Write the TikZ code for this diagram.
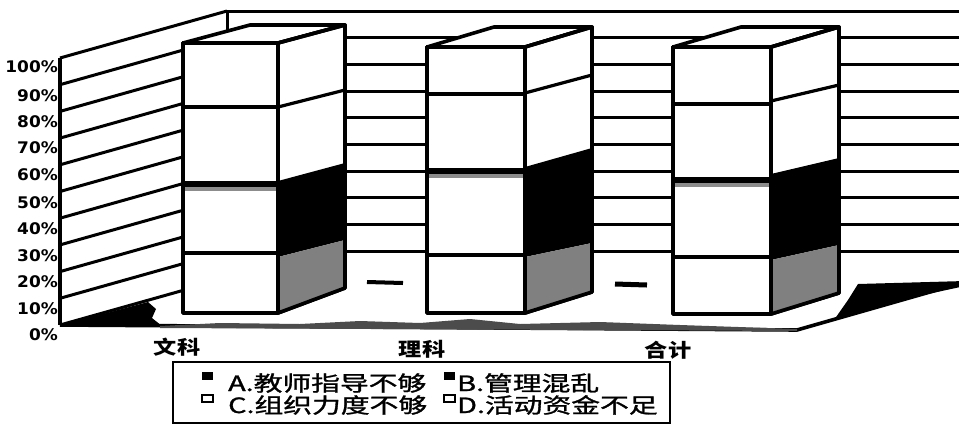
\documentclass[tikz,border=0pt]{standalone}
\usepackage{fontspec}
\usepackage{graphicx}
\newfontfamily\cjk{Noto Sans CJK SC}
\newfontfamily\cjkleg{Noto Sans CJK SC}[FakeBold=1.2]
\newfontfamily\axfont{DejaVu Sans}
\begin{document}
\begin{tikzpicture}[x=1pt,y=-1pt,
  grid/.style={line width=3pt},
  edge/.style={line width=3.6pt, line join=round},
  inner/.style={line width=3.2pt},
  ylab/.style={anchor=east, inner sep=0pt, font=\axfont\bfseries\fontsize{16}{16}\selectfont},
  cat/.style={inner sep=0pt, font=\cjk\bfseries\fontsize{19}{19}\selectfont},
  leg/.style={anchor=west, inner sep=0pt, text height=14pt, text depth=4pt, font=\cjkleg\fontsize{21}{21}\selectfont},
  mark box/.style={line width=1.8pt}
]
\useasboundingbox (0,0) rectangle (959,424);
\fill[white] (0,0) rectangle (959,424);
\begin{scope}
\clip (0,0) rectangle (959,424);
% left wall gridlines
\foreach \i in {0,...,10}{
  \pgfmathsetmacro\yy{325-26.7*\i}
  \draw[grid] (60,\yy) -- (227,\yy-47);
}
% back wall gridlines
\foreach \i in {1,...,10}{
  \pgfmathsetmacro\yy{278-26.7*\i}
  \draw[grid] (227,\yy) -- (965,\yy);
}
\draw[grid] (227,11) -- (227,278);
\draw[edge] (60,58) -- (60,325);
% floor
\draw[edge] (60,325) -- (797,330) -- (965,282);
\fill[black] (62,325) -- (148,302) -- (156,309) -- (152,318) -- (162,326) -- cycle;
\fill[black!70] (160,326) -- (220,323) -- (300,324) -- (360,321) -- (420,323) -- (470,319) -- (520,324) -- (600,322) -- (680,325) -- (797,329) -- (797,331) -- (160,328) -- cycle;
\fill[black] (858,284) -- (965,281) -- (965,286) -- (900,300) -- (848,314) -- (834,320) -- (848,300) -- cycle;
\draw[line width=4pt] (367,282) -- (403,283);
\draw[line width=5pt] (615,284) -- (647,285);
% bars
\foreach \xl/\xr/\xs/\tf/\tb/\fa/\sa/\sb/\bd/\ka/\kb/\fb/\ga/\gb/\bm/\bn in {
  183/278/345/43/25/107/107/90/181/181/163/253/257/240/313/288,
  427/525/592/47/27/94/93/75/168/167/148/255/257/243/313/292,
  673/771/839/47/27/104/101/85/177/174/158/257/260/245/314/293}{
  \pgfmathsetmacro\xk{\xl+\xs-\xr}
  \filldraw[fill=white, edge] (\xl,\tf) -- (\xr,\tf) -- (\xs,\tb) -- (\xk,\tb) -- cycle;
  \filldraw[fill=white, edge] (\xl,\tf) rectangle (\xr,\bm);
  \filldraw[fill=white, edge] (\xr,\tf) -- (\xs,\tb) -- (\xs,\bn) -- (\xr,\bm) -- cycle;
  \fill[black] (\xr,\ka) -- (\xs,\kb) -- (\xs,\gb) -- (\xr,\ga) -- cycle;
  \fill[black!50] (\xr,\ga) -- (\xs,\gb) -- (\xs,\bn) -- (\xr,\bm) -- cycle;
  \draw[inner] (\xr,\sa) -- (\xs,\sb);
  \draw[inner] (\xl,\fa) -- (\xr,\fa);
  \fill[black] (\xl,\bd) rectangle (\xr,\bd+6);
  \fill[black!45] (\xl,\bd+6) rectangle (\xr,\bd+10);
  \draw[inner] (\xl,\fb) -- (\xr,\fb);
  \draw[edge] (\xl,\tf) rectangle (\xr,\bm);
  \draw[edge] (\xr,\tf) -- (\xs,\tb) -- (\xs,\bn) -- (\xr,\bm);
}
\end{scope}
% axis labels
\foreach \t/\yy in {0\%/335, 10\%/309, 20\%/282, 30\%/256, 40\%/229, 50\%/203, 60\%/175, 70\%/148, 80\%/122, 90\%/96, 100\%/67}{
  \node[ylab] (yl\yy) at (58,\yy) {\scalebox{1.06}[1]{\t}};
}
% category labels
\node[cat] (c1) at (177,347) {\scalebox{1.22}[1]{文科}};
\node[cat] (c2) at (422,349) {\scalebox{1.22}[1]{理科}};
\node[cat] (c3) at (668,350) {\scalebox{1.22}[1]{合计}};
% legend
\draw[line width=2.2pt] (173,362) rectangle (670,423);
\fill[black] (202,372) rectangle (213,380);
\fill[black] (444,372) rectangle (455,380);
\draw[mark box, fill=white] (202,395) rectangle (213,402);
\draw[mark box, fill=white] (444,395) rectangle (455,402);
\node[leg] (la) at (228,386) {\scalebox{1.37}[1]{A.教师指导不够}};
\node[leg] (lb) at (457,386) {\scalebox{1.37}[1]{B.管理混乱}};
\node[leg] (lc) at (228,408) {\scalebox{1.37}[1]{C.组织力度不够}};
\node[leg] (ld) at (457,408) {\scalebox{1.37}[1]{D.活动资金不足}};
\end{tikzpicture}
\end{document}
